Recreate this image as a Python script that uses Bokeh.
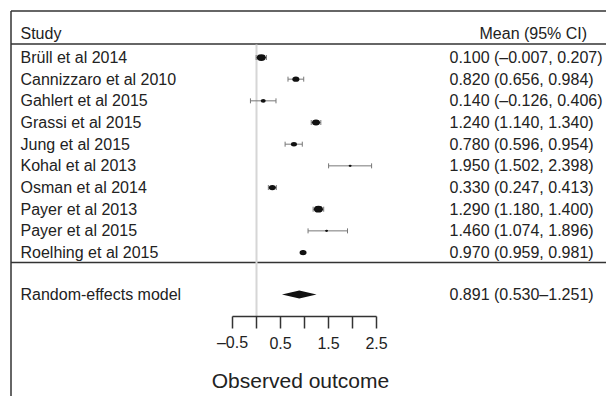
from bokeh.plotting import figure
from bokeh.models import Range1d
from bokeh.core.properties import value
from bokeh.embed import file_html
from bokeh.resources import INLINE

# ---- data ----
studies = ["Brüll et al 2014", "Cannizzaro et al 2010", "Gahlert et al 2015",
           "Grassi et al 2015", "Jung et al 2015", "Kohal et al 2013",
           "Osman et al 2014", "Payer et al 2013", "Payer et al 2015",
           "Roelhing et al 2015"]
means = [0.100, 0.820, 0.140, 1.240, 0.780, 1.950, 0.330, 1.290, 1.460, 0.970]
lows = [-0.007, 0.656, -0.126, 1.140, 0.596, 1.502, 0.247, 1.180, 1.074, 0.959]
highs = [0.207, 0.984, 0.406, 1.340, 0.954, 2.398, 0.413, 1.400, 1.896, 0.981]
box_weight = [9, 7, 5, 8, 6, 3, 7, 9, 3, 7]   # relative box sizes as pictured
summary_label = "Random-effects model"
summary_mean = 0.891
summary_low = 0.530
summary_high = 1.251
tick_values = [-0.5, 0.0, 0.5, 1.0, 1.5, 2.0, 2.5]
tick_labels = ["\u20130.5", "0.5", "1.5", "2.5"]
tick_label_values = [-0.5, 0.5, 1.5, 2.5]
x_title = "Observed outcome"
header_left = "Study"
header_right = "Mean (95% CI)"

# ---- layout helpers (page pixel -> data) ----
W, H = 606, 396
ROW = 21.67
def px(xp):
    return (xp - 256.0) / 48.0
def py(yp):
    return (yp - 57.0) / ROW

p = figure(width=W, height=H, output_backend="svg", toolbar_location=None,
           x_axis_type=None, y_axis_type=None, min_border=0,
           x_range=Range1d(px(0), px(W)), y_range=Range1d(py(H), py(0)))
p.outline_line_color = None
p.background_fill_color = "white"
p.border_fill_color = "white"

FONT = value("Liberation Sans")
TXT = "#222222"
LINE = "#333333"

n = len(studies)
rows = list(range(n))
sum_row = py(294)

# frame lines
xl, xr = px(10.5), px(W + 2)
p.line([xl, xl], [py(10.5), py(400)], line_color=LINE, line_width=1.5)
p.line([xl, xr], [py(10.5), py(10.5)], line_color=LINE, line_width=1.5)
p.line([xl, xr], [py(43.5), py(43.5)], line_color=LINE, line_width=1.5)
p.line([xl, xr], [py(262), py(262)], line_color=LINE, line_width=1.5)

# zero reference line
p.line([0, 0], [py(44), py(316)], line_color="#d6d6d6", line_width=2)

# CI whiskers with caps
cap = 2.5 / ROW
p.segment(x0=lows, y0=rows, x1=highs, y1=rows, line_color="#777777", line_width=1)
p.segment(x0=lows, y0=[r - cap for r in rows], x1=lows, y1=[r + cap for r in rows],
          line_color="#777777", line_width=1)
p.segment(x0=highs, y0=[r - cap for r in rows], x1=highs, y1=[r + cap for r in rows],
          line_color="#777777", line_width=1)

# boxes
p.ellipse(x=means, y=rows, width=[w for w in box_weight],
          height=[w * 0.75 for w in box_weight],
          width_units="screen", height_units="screen",
          fill_color="#111111", line_color=None)

# summary diamond
dh = 4.0 / ROW
p.patch([summary_low, summary_mean, summary_high, summary_mean],
        [sum_row, sum_row - dh, sum_row, sum_row + dh],
        fill_color="#111111", line_color=None)

# left labels
p.text(x=[px(20)] * n, y=rows, text=studies, text_baseline="middle",
       text_align="left", text_font=FONT, text_font_size="16px", text_color=TXT)
p.text(x=[px(20)], y=[sum_row], text=[summary_label], text_baseline="middle",
       text_align="left", text_font=FONT, text_font_size="16px", text_color=TXT)

# right values
def fmt(v):
    return f"{v:.3f}".replace("-", "\u2013")
vals = [f"{fmt(m)} ({fmt(l)}, {fmt(h)})" for m, l, h in zip(means, lows, highs)]
p.text(x=[px(449)] * n, y=rows, text=vals, text_baseline="middle",
       text_align="left", text_font=FONT, text_font_size="16px", text_color=TXT)
p.text(x=[px(449)], y=[sum_row],
       text=[f"{fmt(summary_mean)} ({fmt(summary_low)}\u2013{fmt(summary_high)})"],
       text_baseline="middle", text_align="left", text_font=FONT,
       text_font_size="16px", text_color=TXT)

# headers
p.text(x=[px(20)], y=[py(33)], text=[header_left], text_baseline="middle",
       text_align="left", text_font=FONT, text_font_size="16px", text_color=TXT)
p.text(x=[px(479)], y=[py(33)], text=[header_right], text_baseline="middle",
       text_align="left", text_font=FONT, text_font_size="16px", text_color=TXT)

# manual x axis
ay = py(316)
ty = py(328)
p.line([tick_values[0], tick_values[-1]], [ay, ay], line_color=LINE, line_width=1.5)
p.segment(x0=tick_values, y0=[ay] * len(tick_values), x1=tick_values,
          y1=[ty] * len(tick_values), line_color=LINE, line_width=1.5)
p.text(x=tick_label_values, y=[py(342)] * len(tick_label_values), text=tick_labels,
       text_baseline="middle", text_align="center", text_font=FONT,
       text_font_size="16px", text_color=TXT)
p.text(x=[px(300)], y=[py(380)], text=[x_title], text_baseline="middle",
       text_align="center", text_font=FONT, text_font_size="21px", text_color=TXT)

open("out.html", "w").write(file_html(p, INLINE))
